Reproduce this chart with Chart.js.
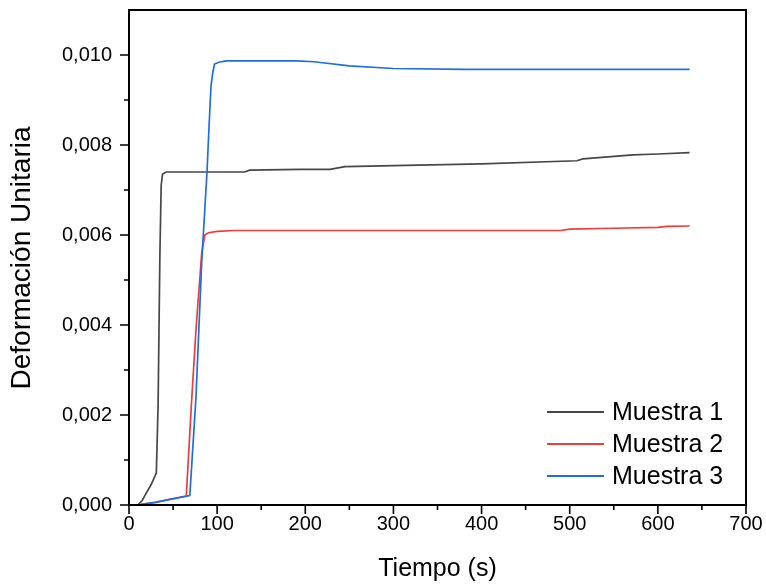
<!DOCTYPE html>
<html lang="es">
<head>
<meta charset="utf-8">
<title>Deformación Unitaria vs Tiempo</title>
<script src="https://cdn.jsdelivr.net/npm/chart.js@4.4.1/dist/chart.umd.min.js"></script>
<style>
  html, body { margin: 0; padding: 0; background: #fff; }
  canvas { display: block; }
</style>
</head>
<body>
<canvas id="grafico" width="766" height="586"></canvas>
<script>
// Series: tiempo (s) and deformación unitaria for each muestra
const nombres = ['Muestra 1', 'Muestra 2', 'Muestra 3'];
const colores = ['#474747', '#f23c3c', '#1f6fe0'];

const tiempo1 = [10, 15, 20, 25, 31, 33, 35, 36.5, 38, 42, 60, 100, 131, 137, 194, 228, 245, 300, 400, 508, 515, 572, 600, 636];
const deform1 = [0, 0.0001, 0.00028, 0.00045, 0.00071, 0.0022, 0.0055, 0.0071, 0.00735, 0.0074, 0.0074, 0.0074, 0.0074, 0.00744, 0.00746, 0.00746, 0.00752, 0.00754, 0.00758, 0.00765, 0.00769, 0.00778, 0.0078, 0.00783];

const tiempo2 = [10, 20, 30, 45, 65, 71, 76, 82.5, 86, 90, 100, 120, 300, 490, 500, 550, 600, 610, 636];
const deform2 = [0, 0.00003, 0.00006, 0.00012, 0.0002, 0.0023, 0.0039, 0.0056, 0.006, 0.00605, 0.00608, 0.0061, 0.0061, 0.0061, 0.00613, 0.00615, 0.00617, 0.00619, 0.0062];

const tiempo3 = [10, 20, 30, 45, 69, 76, 82.5, 88.5, 91, 93, 95, 97, 102, 110, 120, 190, 210, 250, 300, 380, 500, 636];
const deform3 = [0, 0.00003, 0.00006, 0.00012, 0.00021, 0.0024, 0.0054, 0.0074, 0.0085, 0.0093, 0.0096, 0.0098, 0.00984, 0.00987, 0.00987, 0.00987, 0.00985, 0.00976, 0.0097, 0.00968, 0.00968, 0.00968];

// Axis ticks
const xTicks = [0, 100, 200, 300, 400, 500, 600, 700];
const xMinor = [50, 150, 250, 350, 450, 550, 650];
const yTicks = [0, 0.002, 0.004, 0.006, 0.008, 0.010];
const yMinor = [0.001, 0.003, 0.005, 0.007, 0.009];

const tituloX = 'Tiempo (s)';
const tituloY = 'Deformación Unitaria';

const FUENTE = '"Liberation Sans", Arial, Helvetica, sans-serif';

function puntos(t, d) {
  return t.map((v, i) => ({ x: v, y: d[i] }));
}

const series = [
  { label: nombres[0], data: puntos(tiempo1, deform1), borderColor: colores[0], order: 3 },
  { label: nombres[1], data: puntos(tiempo2, deform2), borderColor: colores[1], order: 2 },
  { label: nombres[2], data: puntos(tiempo3, deform3), borderColor: colores[2], order: 1 }
].map(s => Object.assign(s, {
  borderWidth: 1.7,
  pointRadius: 0,
  tension: 0,
  fill: false
}));

// Frame, major/minor ticks, axis titles and legend
const decoracion = {
  id: 'decoracion',
  afterDraw(chart) {
    const ctx = chart.ctx;
    const { left, right, top, bottom } = chart.chartArea;
    const sx = chart.scales.x, sy = chart.scales.y;
    ctx.save();
    ctx.strokeStyle = '#000';
    ctx.lineWidth = 2;
    ctx.strokeRect(left, top, right - left, bottom - top);

    ctx.lineWidth = 1.6;
    ctx.beginPath();
    xTicks.forEach(v => { const p = sx.getPixelForValue(v); ctx.moveTo(p, bottom); ctx.lineTo(p, bottom + 9); });
    xMinor.forEach(v => { const p = sx.getPixelForValue(v); ctx.moveTo(p, bottom); ctx.lineTo(p, bottom + 5); });
    yTicks.forEach(v => { const p = sy.getPixelForValue(v); ctx.moveTo(left, p); ctx.lineTo(left - 9, p); });
    yMinor.forEach(v => { const p = sy.getPixelForValue(v); ctx.moveTo(left, p); ctx.lineTo(left - 5, p); });
    ctx.stroke();

    // axis titles
    ctx.fillStyle = '#000';
    ctx.textAlign = 'center';
    ctx.textBaseline = 'middle';
    ctx.font = '25px ' + FUENTE;
    ctx.fillText(tituloX, (left + right) / 2, 569);
    ctx.save();
    ctx.font = '28px ' + FUENTE;
    ctx.translate(22, 258);
    ctx.rotate(-Math.PI / 2);
    ctx.fillText(tituloY, 0, 0);
    ctx.restore();

    // legend
    const x0 = 547, x1 = 604, xt = 612, y0 = 412, dy = 32;
    ctx.font = '25px ' + FUENTE;
    ctx.textAlign = 'left';
    chart.data.datasets.forEach((ds, i) => {
      const y = y0 + i * dy;
      ctx.strokeStyle = ds.borderColor;
      ctx.lineWidth = 2;
      ctx.beginPath();
      ctx.moveTo(x0, y);
      ctx.lineTo(x1, y);
      ctx.stroke();
      ctx.fillStyle = '#000';
      ctx.fillText(ds.label, xt, y + 1);
    });
    ctx.restore();
  }
};

new Chart(document.getElementById('grafico'), {
  type: 'line',
  data: { datasets: series },
  options: {
    responsive: false,
    animation: false,
    devicePixelRatio: 1,
    layout: { padding: { left: 0, right: 20, top: 10, bottom: 0 } },
    plugins: { legend: { display: false }, tooltip: { enabled: false } },
    scales: {
      x: {
        type: 'linear',
        min: 0,
        max: 700,
        afterBuildTicks(scale) { scale.ticks = xTicks.map(v => ({ value: v })); },
        afterFit(scale) { scale.height = 81; scale.paddingLeft = 0; scale.paddingRight = 0; },
        grid: { display: true, drawOnChartArea: false, drawTicks: true, tickLength: 9, color: 'rgba(0,0,0,0)' },
        border: { display: false },
        ticks: {
          color: '#000',
          font: { family: FUENTE, size: 20 },
          padding: -2,
          maxRotation: 0,
          callback: v => String(v)
        }
      },
      y: {
        type: 'linear',
        min: 0,
        max: 0.011,
        afterBuildTicks(scale) { scale.ticks = yTicks.map(v => ({ value: v })); },
        afterFit(scale) { scale.width = 129; scale.paddingTop = 0; scale.paddingBottom = 0; },
        grid: { display: true, drawOnChartArea: false, drawTicks: true, tickLength: 9, color: 'rgba(0,0,0,0)' },
        border: { display: false },
        ticks: {
          color: '#000',
          font: { family: FUENTE, size: 20 },
          padding: 8,
          callback: v => v.toFixed(3).replace('.', ',')
        }
      }
    }
  },
  plugins: [decoracion]
});
</script>
</body>
</html>
